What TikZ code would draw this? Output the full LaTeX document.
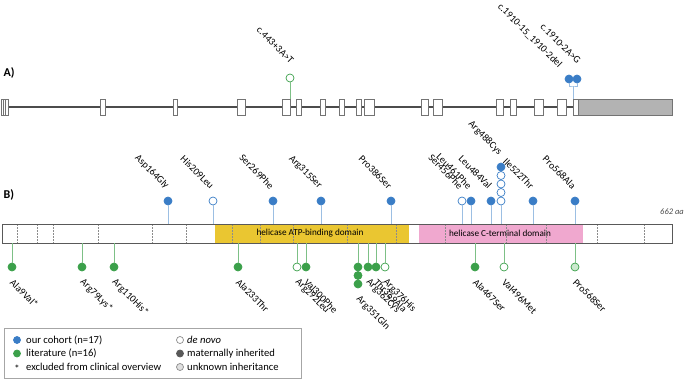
\documentclass[tikz,border=0pt]{standalone}
\usepackage{fontspec}
\setmainfont{Carlito}
\usetikzlibrary{positioning}

\definecolor{cohort}{HTML}{3A7DC6}
\definecolor{cohortstem}{HTML}{9CBFE3}
\definecolor{lit}{HTML}{3BA04A}
\definecolor{litstem}{HTML}{7DC086}
\definecolor{litlight}{HTML}{CBE9CE}
\definecolor{atp}{HTML}{EAC631}
\definecolor{cterm}{HTML}{F0A8CF}
\definecolor{utr}{HTML}{B3B3B3}

\tikzset{
  gene/.style={draw=black!70, line width=1.2pt},
  exon/.style={draw=black!55, fill=white, line width=0.6pt},
  pin/.style={circle, inner sep=0pt, minimum size=8pt, line width=0.7pt},
  bluepin/.style={pin, draw=cohort, fill=cohort},
  greenpin/.style={pin, draw=lit, fill=lit},
  uplab/.style={rotate=-45, anchor=east, inner sep=1pt},
  downlab/.style={rotate=-45, anchor=west, inner sep=1pt},
  panel/.style={anchor=west, font=\bfseries\fontsize{12}{14}\selectfont},
  cut/.style={black!45, line width=0.5pt, dash pattern=on 1.5pt off 1.5pt},
  key/.style={anchor=west, inner sep=1pt, font=\fontsize{10.6}{12}\selectfont},
}

\begin{document}
\begin{tikzpicture}[x=1pt, y=-1pt, font=\fontsize{10}{12}\selectfont]
\useasboundingbox (0,0) rectangle (685,380);

% A) gene
\begin{scope}
  \node[panel] (A) at (0,73) {A)};
  \draw[gene] (2,107) -- (578,107);
  \draw[exon] (1.5,99) rectangle (8,115);
  \draw[black!55, line width=0.6pt] (3.5,99) -- (3.5,115) (5,99) -- (5,115);
  \foreach \a/\b in {100/105, 173/177, 237/245, 282/290, 296/301, 320/325,
                     339/344, 356/361, 364/374, 421/428, 433/442, 496/503,
                     510/516, 534/543, 557/566, 573/578}
    \draw[exon] (\a,99) rectangle (\b,115);
  \draw[exon, fill=utr] (578,99) rectangle (672,115);

  \node[pin, draw=lit, fill=white] (gA) at (290,78) {};
  \coordinate (gAb) at (290,99);
  \draw[litstem] (gA) -- (gAb);
  \node[uplab] (gAl) at ([shift={(3,-15)}]gA.center) {c.443+3A>T};

  \node[bluepin] (bA1) at (569,79) {};
  \node[bluepin] (bA2) at (577,79) {};
  \coordinate (bAj) at (573,86);
  \coordinate (bAb) at (573,99);
  \draw[cohortstem] (bA1) |- (bAj) -| (bA2);
  \draw[cohortstem] (bAj) -- (bAb);
  \node[uplab] (bAl1) at ([shift={(-8,-12)}]bA1.center) {c.1910-15\_1910-2del};
  \node[uplab] (bAl2) at ([shift={(3,-16)}]bA2.center) {c.1910-2A>G};
\end{scope}

% B) protein
\begin{scope}
  \node[panel] (B) at (0,195) {B)};
  \fill[white] (2,224) rectangle (672,243);
  \fill[atp] (215,224) rectangle (409,243);
  \fill[cterm] (419,224) rectangle (583,243);
  \foreach \x in {17, 37, 53, 98, 152, 186, 232, 260, 293, 347, 396, 445, 506, 546, 597, 644}
    \draw[cut] (\x,224) -- (\x,243);
  \draw[black!65, line width=0.8pt] (2,224) rectangle (672,243);
  \node[font=\fontsize{9.2}{11}\selectfont] (atpl) at (310,233.5) {helicase ATP-binding domain};
  \node[font=\fontsize{9.2}{11}\selectfont] (ctl) at (500,233.5) {helicase C-terminal domain};
  \node[anchor=east, inner sep=1pt, text=black!70, font=\itshape\fontsize{8.5}{10}\selectfont] (len) at (685,212) {662 aa};

  % our cohort
  \foreach \x/\name/\fc [count=\i] in {168/Asp164Gly/cohort, 213/His209Leu/white,
      273/Ser269Phe/cohort, 321/Arg315Ser/cohort, 391/Pro386Ser/cohort,
      462/Ser456Phe/white, 471/Leu461Phe/cohort, 491/Leu484Val/cohort,
      533/Ile522Thr/cohort, 575/Pro568Ala/cohort}{
    \coordinate (ub\i) at (\x,224);
    \node[pin, draw=cohort, fill=\fc] (u\i) at (\x,201) {};
    \draw[cohortstem] (u\i) -- (ub\i);
    \node[uplab] (ul\i) at ([shift={(0,-13)}]u\i.center) {\name};
  }
  \coordinate (rb) at (501,224);
  \foreach \y [count=\j] in {201, 192.5, 184, 175.5}
    \node[pin, draw=cohort, fill=white] (r\j) at (501,\y) {};
  \node[bluepin] (r5) at (501,167) {};
  \draw[cohortstem] (r1) -- (rb);
  \node[uplab] (rl) at ([shift={(0,-13)}]r5.center) {Arg488Cys};

  % literature
  \foreach \x/\name/\fc/\dc [count=\i] in {12/Ala9Val*/lit/lit, 82/Arg79Lys*/lit/lit,
      114/Arg110His*/lit/lit, 238/Ala233Thr/lit/lit, 297/Arg292Leu/white/lit,
      306/Val300Phe/lit/lit, 368/Arg362Cys/lit/lit, 376/Thr369Ala/lit/lit,
      385/Arg376His/white/lit, 475/Ala467Ser/lit/lit, 504/Val496Met/white/lit,
      575/Pro568Ser/litlight/lit}{
    \coordinate (db\i) at (\x,243);
    \node[pin, draw=\dc, fill=\fc] (d\i) at (\x,267) {};
    \draw[litstem] (d\i) -- (db\i);
    \node[downlab] (dl\i) at ([shift={(-1,13)}]d\i.center) {\name};
  }
  \coordinate (sb) at (358,243);
  \foreach \y [count=\j] in {267, 275.5, 284}
    \node[greenpin] (s\j) at (358,\y) {};
  \draw[litstem] (s1) -- (sb);
  \node[downlab] (sl) at ([shift={(-1,13)}]s3.center) {Arg351Gln};
\end{scope}

% legend
\node[draw=black!35, line width=0.6pt, minimum width=297pt, minimum height=50pt,
      anchor=north west, inner sep=0pt] (legend) at (4,328) {};
\node[bluepin, minimum size=7pt] (k1) at (17,340) {};
\node[key] (k1t) at (25,340) {our cohort (n=17)};
\node[greenpin, minimum size=7pt] (k2) at (17,353.5) {};
\node[key] (k2t) at (25,353.5) {literature (n=16)};
\node[key, anchor=center] (k3) at (17,368.5) {*};
\node[key] (k3t) at (25,367) {excluded from clinical overview};
\node[pin, minimum size=7pt, draw=black!45, fill=white] (k4) at (180,340) {};
\node[key] (k4t) at (186,340) {\textit{de novo}};
\node[pin, minimum size=7pt, draw=black!65, fill=black!65] (k5) at (180,353.5) {};
\node[key] (k5t) at (186,353.5) {maternally inherited};
\node[pin, minimum size=7pt, draw=black!45, fill=black!12] (k6) at (180,367) {};
\node[key] (k6t) at (186,367) {unknown inheritance};
\end{tikzpicture}
\end{document}
